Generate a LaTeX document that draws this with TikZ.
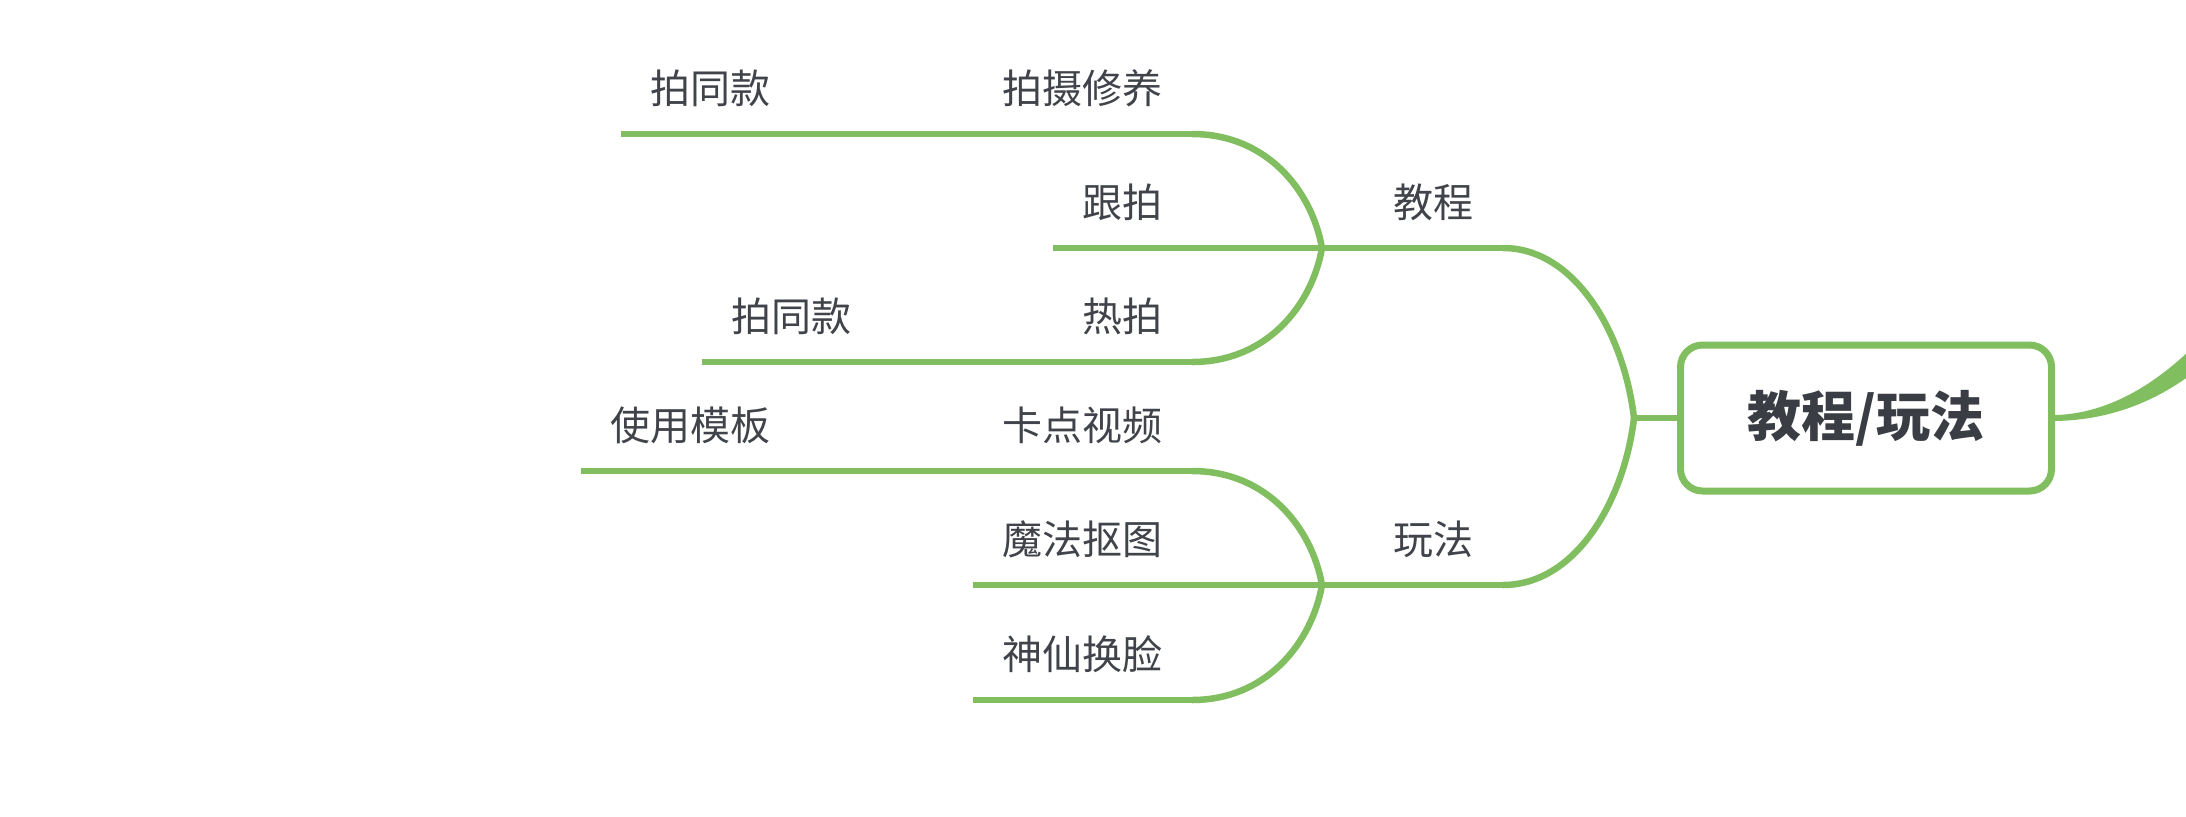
\documentclass[tikz,border=0pt]{standalone}
\usepackage{fontspec}
\setmainfont{Noto Sans CJK SC}
\definecolor{branchgreen}{RGB}{128,190,96}
\definecolor{labelgray}{RGB}{64,68,74}
\definecolor{titlegray}{RGB}{58,62,68}
\tikzset{
  branch/.style={draw=branchgreen, line width=3.25pt},
  topic/.style={inner xsep=14.5pt, inner ysep=0pt, minimum height=45pt,
    font=\fontsize{20pt}{24pt}\selectfont, text=labelgray, anchor=south east},
  rootbox/.style={draw=branchgreen, line width=3.5pt, rounded corners=11pt,
    minimum width=185.5pt, minimum height=73pt, fill=white,
    font=\fontsize{27pt}{32pt}\selectfont\bfseries, text=titlegray}
}
\begin{document}
\begin{tikzpicture}[x=0.5pt, y=-0.5pt]
\useasboundingbox (0,0) rectangle (2186,816);
% root
\node[rootbox] (root) at (1866,418) {教程/玩法};
\coordinate (r) at (1634,418);
\coordinate (fj) at (1322,248);
\coordinate (fw) at (1322,585);
% level 1
\node[topic] (jc) at (1503,248) {教程};
\node[topic] (wf) at (1503,585) {玩法};
% level 2
\node[topic] (psxy) at (1192,134) {拍摄修养};
\node[topic] (gp) at (1192,248) {跟拍};
\node[topic] (rp) at (1192,362) {热拍};
\node[topic] (kd) at (1192,471) {卡点视频};
\node[topic] (mf) at (1192,585) {魔法抠图};
\node[topic] (sx) at (1192,700) {神仙换脸};
% level 3
\node[topic] (t1) at (800,134) {拍同款};
\node[topic] (t2) at (881,362) {拍同款};
\node[topic] (t3) at (800,471) {使用模板};
% outgoing connector at right (tapered)
\coordinate (outend) at (2200,350);
\begin{scope}
\clip (0,0) rectangle (2186,816);
\fill[branchgreen] (root.east) ++(0,-3) .. controls (2100,414) and (2146,392) .. (2190,350)
  -- (2202,366) .. controls (2158,402) and (2108,421) .. (2051.5,421) -- cycle;
\end{scope}
% stub and root fork
\path[branch] (root.west) -- (r);
\path[branch] (r) .. controls +(-10,-85) and +(72,0) .. (jc.south east);
\path[branch] (r) .. controls +(-10,84) and +(72,0) .. (wf.south east);
% level 1 lines
\path[branch] (fj) -- (jc.south east);
\path[branch] (fw) -- (wf.south east);
% forks of 教程
\path[branch] (fj) .. controls +(-10,-57) and +(75,0) .. (psxy.south east);
\path[branch] (fj) .. controls +(-10,57) and +(75,0) .. (rp.south east);
\path[branch] (fj) -- (gp.south east);
% forks of 玩法
\path[branch] (fw) .. controls +(-10,-57) and +(75,0) .. (kd.south east);
\path[branch] (fw) .. controls +(-10,57) and +(75,0) .. (sx.south east);
\path[branch] (fw) -- (mf.south east);
% underlines
\foreach \n in {psxy,gp,rp,kd,mf,sx,t1,t2,t3}{
  \path[branch] (\n.south west) -- (\n.south east);
}
% level 3 connectors
\path[branch] (t1.south east) -- (psxy.south west);
\path[branch] (t2.south east) -- (rp.south west);
\path[branch] (t3.south east) -- (kd.south west);
\end{tikzpicture}
\end{document}
